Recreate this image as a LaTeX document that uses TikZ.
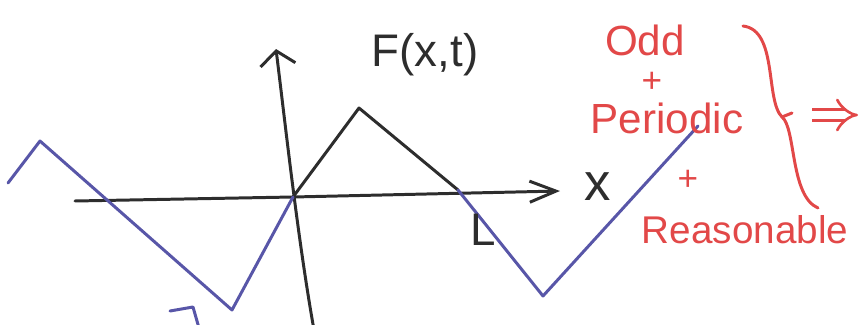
\documentclass[tikz,border=0pt]{standalone}
\usepackage{fontspec}
\setmainfont{Liberation Sans}
\usetikzlibrary{arrows.meta}
\definecolor{inkBlack}{RGB}{45,45,45}
\definecolor{inkBlue}{RGB}{88,86,168}
\definecolor{inkRed}{RGB}{226,72,72}

\begin{document}
\begin{tikzpicture}[x=0.02cm,y=-0.02cm,
  pen/.style={line width=1.7pt,line cap=round,line join=round},
  axislabel/.style={inner sep=0pt,text=inkBlack,font=\fontsize{26}{28}\selectfont},
  redlabel/.style={inner sep=0pt,text=inkRed,font=\fontsize{24}{26}\selectfont}]
\useasboundingbox (0,0) rectangle (867,325);

% axes
\coordinate (O) at (293,197);
\coordinate (xbeg) at (75,201);
\coordinate (xend) at (560,191);
\coordinate (ybot) at (314,330);
\coordinate (ytop) at (276,49);
\draw[pen,inkBlack,-{Straight Barb[length=15pt,width=12pt]}] (xbeg) -- (O) -- (xend);
\draw[pen,inkBlack,-{Straight Barb[length=8pt,width=20pt]}] (ybot) .. controls (298,240) and (286,130) .. (ytop);

% F on [0,L]
\coordinate (peak) at (359,108);
\coordinate (Lpt) at (458,190);
\draw[pen,inkBlack] (O) -- (peak) -- (Lpt);

% odd periodic extension
\coordinate (b0) at (8,183);
\coordinate (b1) at (40,141);
\coordinate (b2) at (232,310);
\coordinate (b3) at (543,296);
\coordinate (b4) at (698,126);
\draw[pen,inkBlue] (b0) -- (b1) -- (b2) -- (O);
\draw[pen,inkBlue] (Lpt) -- (b3) -- (b4);
\coordinate (arrA) at (170,311);
\coordinate (arrB) at (193,307);
\coordinate (arrC) at (199,328);
\draw[pen,inkBlue] (arrA) -- (arrB) -- (arrC);

\node[axislabel] (flabel) at (425,55) {F(x,t)};
\node[axislabel,font=\fontsize{30}{32}\selectfont] (xlabel) at (598,187) {x};
\node[axislabel] (llabel) at (483,230) {L};

% conditions
\node[redlabel] (odd) at (645,40) {Odd};
\node[redlabel,font=\fontsize{20}{22}\selectfont] (plusA) at (652,82) {+};
\node[redlabel] (periodic) at (667,118) {Periodic};
\node[redlabel,font=\fontsize{20}{22}\selectfont] (plusB) at (688,180) {+};
\node[redlabel,font=\fontsize{22}{24}\selectfont] (reasonable) at (745,230) {Reasonable};

\coordinate (braceTop) at (743,26);
\coordinate (braceMid) at (782,117);
\coordinate (braceTick) at (792,113);
\coordinate (braceBot) at (818,208);
\draw[pen,inkRed] (braceTop) .. controls (778,30) and (765,100) .. (braceMid)
  .. controls (796,128) and (790,196) .. (braceBot);
\draw[pen,inkRed] (braceMid) -- (braceTick);
\coordinate (impA) at (812,115);
\coordinate (impB) at (858,115);
\draw[line width=1.5pt,inkRed,double=white,double distance=5pt,-{Implies[length=9pt]}] (impA) -- (impB);
\end{tikzpicture}
\end{document}
